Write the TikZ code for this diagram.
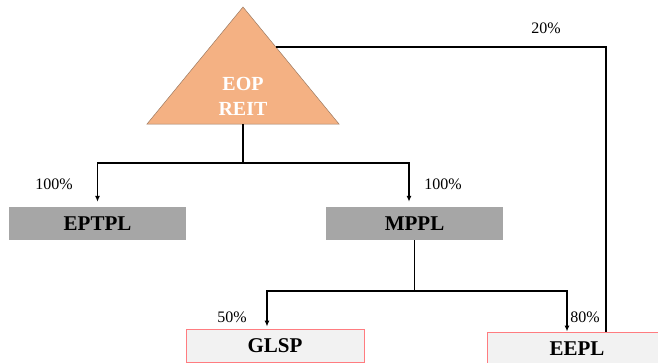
\documentclass[tikz,border=0pt]{standalone}
\usepackage{fontspec}
\setmainfont{Liberation Serif}
\usepackage{tikz}
\usepackage{xcolor}
\usetikzlibrary{arrows.meta, positioning, calc}

\definecolor{reitorange}{HTML}{F4B183}
\definecolor{reitedge}{HTML}{9C7A62}
\definecolor{boxgray}{HTML}{A6A6A6}
\definecolor{boxlight}{HTML}{F2F2F2}
\definecolor{boxred}{HTML}{FF7C80}

\begin{document}
\begin{tikzpicture}[x=1pt, y=-1pt,
  graybox/.style={rectangle, fill=boxgray, minimum width=177pt, minimum height=33pt, inner sep=0pt, font=\fontsize{21}{23}\selectfont\bfseries},
  redbox/.style={rectangle, fill=boxlight, draw=boxred, line width=0.9pt, minimum height=33pt, inner sep=0pt, font=\fontsize{21}{23}\selectfont\bfseries},
  share/.style={font=\fontsize{16}{18}\selectfont},
  link/.style={line width=1.3pt},
  linkarrow/.style={line width=1.3pt, -{Latex[length=6pt, width=5pt]}}]
  \useasboundingbox (0,0) rectangle (658,362);

  % Parent triangle
  \coordinate (apex) at (243,7);
  \coordinate (baseleft) at (147,124);
  \coordinate (baseright) at (339,124);
  \coordinate (tribase) at (243,124);
  \coordinate (triedge) at (276,47);
  \fill[reitorange, draw=reitedge, line width=0.5pt] (apex) -- (baseright) -- (baseleft) -- cycle;
  \node[align=center, text=white, font=\fontsize{20}{25}\selectfont\bfseries] (eop) at (243,96) {EOP\\REIT};

  % Subsidiaries
  \node[graybox] (eptpl) at (97.5,223.5) {EPTPL};
  \node[graybox] (mppl) at (414.5,223.5) {MPPL};
  \node[redbox, minimum width=178pt] (glsp) at (275,345.5) {GLSP};
  \node[redbox, minimum width=180pt] (eepl) at (577,348.5) {EEPL};

  % Connectors
  \coordinate (split1) at (243,163);
  \coordinate (split2) at (414.5,291);
  \draw[link] (tribase) -- (split1);
  \draw[linkarrow, shorten >=5pt] (split1) -| (eptpl.north);
  \draw[linkarrow, shorten >=5pt] (split1) -| ([xshift=-5.5pt]mppl.north);
  \draw[link] (mppl.south) -- (split2);
  \draw[linkarrow, shorten >=2pt] (split2) -| ([xshift=-8pt]glsp.north);
  \draw[linkarrow] (split2) -| ([xshift=-10pt]eepl.north);
  \draw[link] (triedge) -| ([xshift=29pt]eepl.north);

  % Ownership shares
  \node[share] (s20) at (546,28) {20\%};
  \node[share] (s100a) at (54,184) {100\%};
  \node[share] (s100b) at (443,184) {100\%};
  \node[share] (s50) at (232,317) {50\%};
  \node[share] (s80) at (585,317) {80\%};
\end{tikzpicture}
\end{document}
